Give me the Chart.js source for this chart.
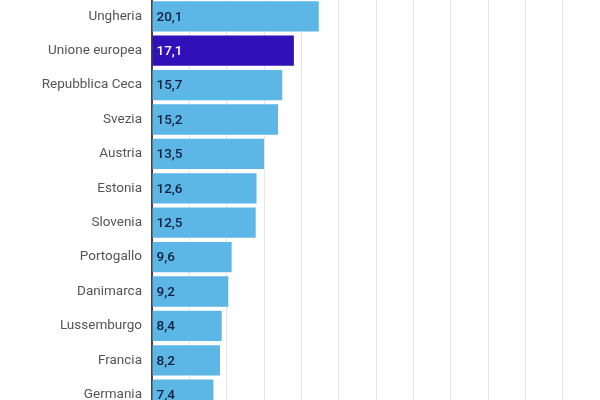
<!DOCTYPE html><html><head><meta charset="utf-8">
<script src="https://cdn.jsdelivr.net/npm/chart.js@4"></script>
<style>html,body{margin:0;padding:0;background:#fff;overflow:hidden}#w{position:absolute;left:0;top:-19px;width:600px;height:449px}</style>
</head><body><div id="w"><canvas id="c"></canvas></div>
<script>
const categories=["Ungheria","Unione europea","Repubblica Ceca","Svezia","Austria","Estonia","Slovenia","Portogallo","Danimarca","Lussemburgo","Francia","Germania"];
const values=[20.1,17.1,15.7,15.2,13.5,12.6,12.5,9.6,9.2,8.4,8.2,7.4];
const highlight="Unione europea";
const colors=categories.map(c=>c===highlight?"#3010b8":"#5cb6e6");
const valueLabels={id:"vl",afterDatasetsDraw(ch){const ctx=ch.ctx;const m=ch.getDatasetMeta(0);ctx.save();ctx.font="500 13.5px Roboto";ctx.textBaseline="middle";m.data.forEach((b,i)=>{ctx.fillStyle=categories[i]===highlight?"#fff":"#0d2240";ctx.fillText(values[i].toFixed(1).replace(".",","),b.base+4,b.y+1);});ctx.restore();}};
new Chart(document.getElementById("c"),{type:"bar",data:{labels:categories,datasets:[{data:values,backgroundColor:colors,categoryPercentage:1,barPercentage:0.88}]},
options:{indexAxis:"y",responsive:true,maintainAspectRatio:false,animation:false,layout:{padding:0},
plugins:{legend:{display:false},tooltip:{enabled:false}},
scales:{x:{min:0,max:54,ticks:{display:false,stepSize:4.5},grid:{color:"#e6e6e6",drawTicks:false},border:{display:false}},
y:{afterFit(s){s.width=152;},ticks:{color:"#555",font:{family:"Roboto",size:13.5},padding:10},grid:{display:false,drawTicks:false},border:{display:true,color:"#444",width:2}}}},
plugins:[valueLabels]});
</script></body></html>
